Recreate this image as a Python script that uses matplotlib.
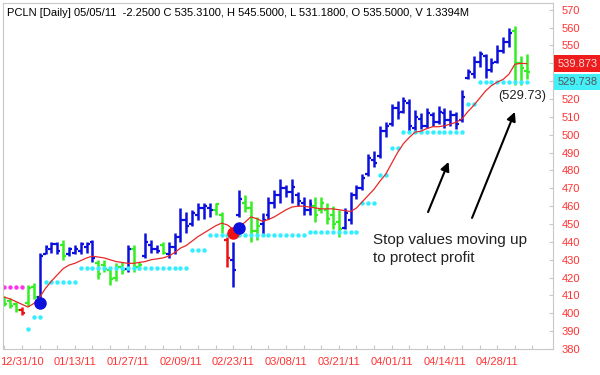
import matplotlib
matplotlib.use("Agg")
import matplotlib.pyplot as plt
import matplotlib.transforms as mtransforms

# Daily bars, one per trading day 12/28/10 .. 05/05/11 (index 0 .. 89).
opens = [408, 407, 405, 402, 406, 415, 409, 433, 436, 439,
         438, 433, 434, 435, 437, 440, 428, 427, 424, 420,
         426, 425, 436, 426, 432, 438, 436, 438, 433, 437,
         443, 452, 450, 455, 459, 459, 458, 455, 441, 430,
         455, 462, 459, 446, 450, 455, 462, 466, 470, 468,
         466, 462, 458, 460, 458, 458, 455, 451, 448, 452,
         466, 470, 478, 486, 488, 502, 506, 515, 513, 518,
         504, 509, 505, 511, 507, 512, 508, 511, 508, 532,
         534, 541, 544, 536, 541, 547, 552, 558, 540, 535.5]
highs = [409.5, 408.5, 406.5, 403.5, 416, 417, 434, 438, 440, 440,
         441, 437, 438, 440, 440, 441, 430, 430, 426, 428,
         429, 438, 438, 429, 445, 441, 438, 440, 440, 445,
         459, 457, 458, 462, 462, 462, 462, 457, 443, 440,
         469, 466, 463, 454, 456, 465, 469, 475, 472, 475,
         468, 465, 464, 465, 465, 462, 460, 458, 459, 468,
         472, 478, 489, 491, 505, 507, 517, 519, 521, 520,
         514, 512, 515, 513, 516, 515, 514, 513, 525, 537,
         544, 547, 545, 543, 550, 555, 560, 561, 544, 545.5]
lows = [404, 403, 401, 399, 404, 408, 406, 433, 434, 433,
        430, 432, 433, 433, 434, 429, 419, 423, 416, 418,
        422, 423, 423, 424, 431, 434, 434, 433, 431, 433,
        440, 445, 449, 452, 453, 454, 455, 445, 426, 415,
        454, 457, 440, 441, 444, 453, 459, 462, 465, 462,
        460, 455, 455, 451, 456, 450, 447, 443, 447, 450,
        464, 469, 477, 482, 487, 499, 505, 509, 512, 501,
        502, 503, 504, 505, 506, 504, 505, 503, 507, 531,
        532, 538, 532, 535, 540, 546, 549, 528, 528, 531.18]
closes = [405, 404, 402, 400, 414, 409, 432, 437, 439, 435,
          432, 436, 436, 439, 439, 431, 422, 425, 419, 426,
          424, 436, 426, 427, 440, 436, 435, 434, 437, 443,
          452, 449, 456, 459, 460, 458, 461, 448, 431, 424,
          464, 459, 446, 449, 452, 462, 466, 470, 468, 471,
          463, 458, 461, 455, 462, 453, 450, 447, 456, 466,
          470, 476, 487, 484, 502, 505, 515, 512, 519, 505,
          510, 505, 512, 507, 513, 508, 511, 506, 521, 535,
          541, 545, 536, 540, 547, 552, 557, 540, 537.56, 535.31]
bar_kinds = list("gggrggbbbbgbbbbbgggggbggbbbgbbbbbbbbggrbbgggbbbbbbbbbgggggbb"
                 "bbbbbbbbbbbbbbbbbbbbbbbbbbbggg")

# Moving average (red line).
ma_values = [409, 408, 406.5, 405, 403.5, 405.5, 409, 414, 418, 421.5,
             425, 427, 428, 429.5, 431, 432, 431.5, 431, 430, 429,
             428.5, 428, 428, 428.5, 429, 430, 430.5, 431, 432, 434,
             436.5, 438, 440.5, 443, 445, 447, 449, 450.5, 449.5, 447,
             448.5, 451, 454, 453, 451.5, 452.5, 454, 456, 458, 459.5,
             460, 460, 459.5, 459, 458.5, 458.5, 458.5, 458, 457.5, 457,
             459, 462.5, 466, 469.5, 474, 478, 484, 490, 495, 498.5,
             501.5, 502, 503.5, 504.5, 504.5, 505, 506, 507, 509, 513,
             516.5, 520.5, 524.5, 527.5, 529.5, 531, 534, 539.5, 540, 539.873]

# Trailing stop values (cyan = long stop, magenta = short stop).
long_stops = [None, None, None, None, 391, 398, 398, 417.5, 417.5, 417.5,
              417.5, 417.5, 417.5, 425.5, 425.5, 425.5, 425.5, 425.5, 425.5, 425.5,
              425.5, 425.5, 425.5, 425.5, 425.5, 425.5, 425.5, 425.5, 425.5, 425.5,
              425.5, 425.5, 435.5, 435.5, 435.5, 444, 444, 444, 444, 444,
              444, 444, 444, 444, 444, 444, 444, 444, 444, 444,
              444, 444, 445.5, 445.5, 445.5, 445.5, 445.5, 445.5, 445.5, 445.5,
              445.5, 462, 462, 462, 477.5, 477.5, 492.5, 492.5, 501.5, 501.5,
              501.5, 501.5, 501.5, 501.5, 501.5, 501.5, 501.5, 501.5, 501.5, 517,
              517, 529.738, 529.738, 529.738, 529.738, 529.738, 529.738, 529.738, 529.738, 529.738]
short_stops = [414.7, 414.7, 414.7, 414.7]

# Signal dots.
signal_index = [6, 39, 40]
signal_price = [406, 445, 448]
signal_kind = ["b", "r", "b"]

# Axis labels.
y_ticks = list(range(380, 571, 10))
hidden_y = [530, 540]  # covered by the last-value boxes
date_labels = ["12/31/10", "01/13/11", "01/27/11", "02/09/11", "02/23/11",
               "03/08/11", "03/21/11", "04/01/11", "04/14/11", "04/28/11"]

header = ("PCLN [Daily] 05/05/11  -2.2500 C 535.3100, H 545.5000, "
          "L 531.1800, O 535.5000, V 1.3394M")

colors = {"b": "#0c10dc", "g": "#33ee22", "r": "#ee1111"}
label_red = "#ff3333"
grey = "#c8c8c8"

plt.rcParams["font.family"] = ["Liberation Sans", "DejaVu Sans"]

# Plot figure.
fig = plt.figure(figsize=(6, 3.75), dpi=100)
ax = fig.add_axes([3 / 600, 26 / 375, 550 / 600, 346 / 375])

# OHLC bars.
tick_len = 0.5
for i in range(len(opens)):
    c = colors[bar_kinds[i]]
    ax.vlines(i, lows[i], highs[i], color=c, lw=1.8)
    ax.hlines(opens[i], i - tick_len, i, color=c, lw=1.6)
    ax.hlines(closes[i], i, i + tick_len, color=c, lw=1.6)

# Moving average.
ax.plot(range(len(ma_values)), ma_values, color="#e82828", lw=0.9, zorder=3)

# Stops.
xs = [i for i, v in enumerate(long_stops) if v is not None]
ys = [v for v in long_stops if v is not None]
ax.plot(xs, ys, ls="none", marker="o", ms=3.2, color="#33eeff", mec="none", zorder=2)
ax.plot(range(len(short_stops)), short_stops, ls="none", marker="o", ms=3.2,
        color="#ff33ee", mec="none", zorder=2)

# Signals.
for i, p, k in zip(signal_index, signal_price, signal_kind):
    ax.plot(i, p, marker="o", ms=9, color=colors[k], mec="none", zorder=5)

# Axes and ticks.
ax.set_xlim(-0.25, 93.5)
ax.set_ylim(380, 573.8)
ax.yaxis.tick_right()
ax.set_yticks(y_ticks)
ax.set_yticklabels(["" if v in hidden_y else str(v) for v in y_ticks])
ax.set_xticks(range(3, 90, 9))
ax.set_xticklabels(date_labels)
ax.set_xticks(range(0, 93, 3), minor=True)
ax.tick_params(which="both", direction="in", length=3, color=grey, width=0.8)
ax.tick_params(axis="y", labelcolor=label_red, labelsize=8, pad=6)
ax.tick_params(axis="x", labelcolor=label_red, labelsize=8, pad=6)
for spine in ax.spines.values():
    spine.set_color(grey)
    spine.set_linewidth(0.8)

# Last value boxes on the right.
trans = mtransforms.blended_transform_factory(ax.transAxes, ax.transData)
ax.text(1.008, 539.873, "539.873", transform=trans, ha="left", va="center",
        fontsize=8, color="#f4dcdc", clip_on=False,
        bbox=dict(facecolor="#ee1c1c", edgecolor="none", pad=2.2))
ax.text(1.008, 529.738, "529.738", transform=trans, ha="left", va="center",
        fontsize=8, color="#555555", clip_on=False,
        bbox=dict(facecolor="#44f0f8", edgecolor="none", pad=2.2))

# Annotations.
ax.text(62.8, 436, "Stop values moving up\nto protect profit", ha="left", va="center",
        fontsize=11, color="#222222", linespacing=1.45)
ax.text(88.2, 521.7, "(529.73)", ha="center", va="center", fontsize=9.3, color="#222222")
arrow = dict(arrowstyle="-|>", color="black", lw=1.5, mutation_scale=13, shrinkA=0, shrinkB=0)
ax.annotate("", xy=(75.7, 484.8), xytext=(72.2, 456.7), arrowprops=arrow)
ax.annotate("", xy=(87.0, 512.8), xytext=(79.7, 453.4), arrowprops=arrow)

# Header.
fig.text(7 / 600, 1 - 13 / 375, header, ha="left", va="center", fontsize=8, color="black")

fig.savefig("out.png", dpi=100)
